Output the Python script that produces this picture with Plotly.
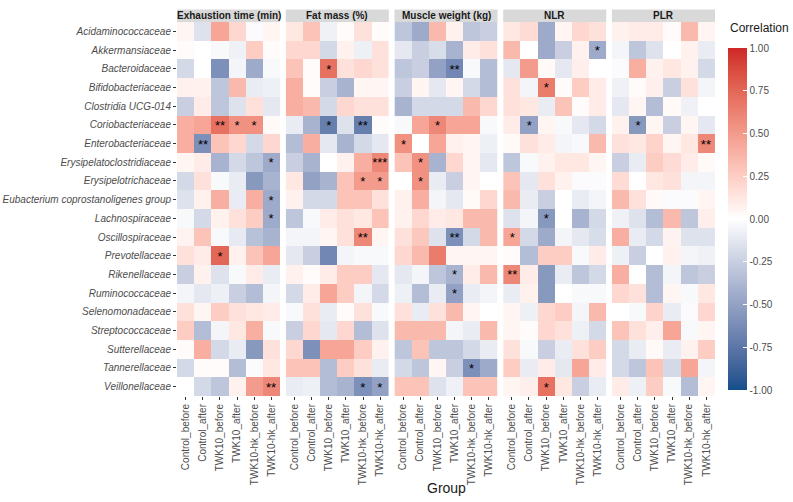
import plotly.graph_objects as go
from plotly.subplots import make_subplots

taxa = ["Acidaminococcaceae", "Akkermansiaceae", "Bacteroidaceae", "Bifidobacteriaceae",
        "Clostridia UCG-014", "Coriobacteriaceae", "Enterobacteriaceae",
        "Erysipelatoclostridiaceae", "Erysipelotrichaceae",
        "Eubacterium coprostanoligenes group", "Lachnospiraceae", "Oscillospiraceae",
        "Prevotellaceae", "Rikenellaceae", "Ruminococcaceae", "Selenomonadaceae",
        "Streptococcaceae", "Sutterellaceae", "Tannerellaceae", "Veillonellaceae"]

groups = ["Control_before", "Control_after", "TWK10_before", "TWK10_after",
          "TWK10-hk_before", "TWK10-hk_after"]

traits = ["Exhaustion time (min)", "Fat mass (%)", "Muscle weight (kg)", "NLR", "PLR"]

exhaustion = [
    [0.05, -0.15, 0.45, 0.2, -0.02, 0.05],
    [0.02, 0.0, -0.03, -0.07, 0.25, 0.02],
    [-0.2, 0.0, -0.6, -0.05, -0.45, -0.03],
    [0.07, 0.07, -0.3, 0.35, -0.1, -0.08],
    [-0.25, 0.1, -0.3, -0.15, 0.15, -0.12],
    [0.4, 0.45, 0.7, 0.55, 0.55, 0.03],
    [0.4, -0.6, 0.3, 0.2, -0.2, 0.2],
    [0.05, 0.1, -0.4, -0.2, -0.3, -0.45],
    [-0.2, 0.15, -0.03, -0.1, -0.55, -0.4],
    [-0.15, 0.07, 0.4, -0.1, 0.4, -0.45],
    [-0.03, -0.2, 0.07, 0.15, 0.25, -0.45],
    [0.06, 0.3, -0.03, -0.11, -0.33, -0.4],
    [0.15, 0.1, 0.75, 0.07, 0.3, 0.45],
    [-0.25, 0.07, -0.15, -0.03, 0.1, -0.1],
    [-0.05, -0.12, -0.08, -0.25, -0.35, -0.05],
    [0.15, 0.05, 0.25, 0.15, 0.12, 0.1],
    [0.25, -0.35, -0.05, 0.12, 0.4, -0.03],
    [0.02, 0.4, -0.2, -0.1, -0.55, 0.15],
    [-0.2, 0.02, 0.02, -0.35, -0.02, 0.12],
    [0.0, -0.2, -0.3, 0.07, 0.5, 0.6],
]

fat_mass = [
    [0.12, 0.3, -0.07, 0.02, 0.15, 0.02],
    [0.2, 0.2, -0.2, 0.07, -0.08, 0.15],
    [0.3, 0.02, 0.7, 0.15, 0.2, 0.15],
    [0.4, 0.02, -0.25, -0.4, 0.05, 0.05],
    [0.4, 0.35, -0.2, 0.2, 0.15, 0.15],
    [-0.1, -0.4, -0.7, -0.15, -0.7, 0.02],
    [-0.35, 0.4, -0.12, -0.4, -0.2, -0.12],
    [-0.25, -0.4, 0.0, 0.07, 0.4, 0.6],
    [0.12, -0.5, -0.4, 0.3, 0.5, 0.5],
    [0.07, -0.2, -0.2, 0.3, 0.3, 0.15],
    [-0.3, -0.03, 0.1, 0.15, 0.12, 0.3],
    [-0.05, -0.05, 0.05, 0.15, 0.6, 0.05],
    [-0.12, -0.25, -0.65, -0.05, -0.03, -0.03],
    [0.07, 0.02, 0.1, 0.25, 0.25, -0.12],
    [-0.2, 0.1, 0.45, 0.25, -0.05, -0.2],
    [-0.03, 0.15, -0.1, 0.02, 0.15, -0.03],
    [-0.25, 0.2, -0.12, 0.2, -0.35, -0.15],
    [0.2, -0.6, 0.45, 0.45, 0.25, 0.07],
    [0.3, 0.3, -0.35, 0.25, 0.15, -0.1],
    [-0.1, -0.08, -0.35, -0.4, -0.6, -0.5],
]

muscle_weight = [
    [-0.3, -0.45, 0.35, 0.07, -0.3, -0.25],
    [-0.12, -0.25, -0.18, -0.4, 0.1, 0.15],
    [-0.3, -0.25, -0.5, -0.65, -0.03, -0.35],
    [-0.25, 0.05, -0.12, 0.05, -0.2, -0.35],
    [-0.4, -0.2, -0.2, -0.2, 0.35, 0.2],
    [-0.03, 0.45, 0.6, 0.45, 0.45, -0.03],
    [0.55, 0.0, 0.45, 0.07, 0.05, -0.08],
    [0.3, 0.55, -0.4, 0.2, 0.05, -0.12],
    [0.0, 0.55, -0.1, -0.25, 0.05, 0.0],
    [0.07, 0.4, -0.05, -0.12, 0.03, 0.2],
    [0.07, 0.2, 0.1, 0.12, 0.35, 0.35],
    [0.15, 0.28, -0.15, -0.6, -0.2, 0.35],
    [0.2, 0.35, 0.65, 0.05, 0.05, 0.05],
    [-0.12, -0.05, -0.3, -0.4, 0.1, 0.35],
    [-0.08, -0.35, -0.1, -0.5, -0.1, -0.05],
    [0.15, -0.1, 0.15, 0.35, 0.05, 0.0],
    [0.35, 0.35, 0.35, -0.05, -0.1, 0.35],
    [-0.3, 0.3, -0.3, -0.3, -0.2, -0.1],
    [-0.2, -0.3, 0.05, -0.25, -0.6, -0.45],
    [0.3, 0.3, -0.15, -0.07, 0.3, 0.3],
]

nlr = [
    [0.12, 0.18, -0.45, 0.05, 0.2, 0.15],
    [0.35, 0.0, -0.45, -0.25, 0.07, -0.45],
    [-0.12, 0.5, 0.03, -0.12, 0.08, 0.0],
    [0.15, -0.05, 0.65, 0.02, 0.25, 0.1],
    [0.15, 0.12, -0.1, 0.3, 0.02, 0.1],
    [0.1, -0.5, 0.05, -0.03, -0.12, -0.2],
    [0.03, 0.15, 0.1, -0.05, -0.03, 0.35],
    [-0.3, -0.03, 0.07, 0.12, 0.12, 0.05],
    [0.3, -0.12, 0.15, 0.07, -0.02, -0.02],
    [0.35, -0.1, -0.25, 0.0, -0.1, -0.05],
    [-0.15, -0.05, -0.55, 0.0, -0.4, -0.2],
    [0.45, -0.2, -0.45, -0.05, -0.12, -0.18],
    [0.02, -0.35, 0.25, 0.25, -0.03, 0.1],
    [0.6, 0.1, -0.55, -0.1, -0.3, -0.2],
    [-0.1, 0.07, -0.55, 0.0, -0.03, -0.03],
    [0.05, -0.08, 0.2, 0.25, -0.05, 0.35],
    [0.05, 0.02, 0.2, 0.15, -0.08, -0.2],
    [0.15, -0.03, -0.25, -0.1, 0.15, 0.25],
    [0.25, -0.1, 0.1, -0.12, 0.45, 0.1],
    [0.05, 0.08, 0.7, 0.12, -0.25, -0.1],
]

plr = [
    [0.07, 0.1, 0.1, 0.02, 0.35, 0.05],
    [-0.05, -0.3, -0.15, 0.0, 0.07, -0.1],
    [-0.02, 0.4, 0.07, 0.12, 0.07, -0.2],
    [-0.07, 0.02, 0.08, -0.25, 0.15, -0.05],
    [-0.12, 0.05, -0.35, 0.03, -0.07, 0.0],
    [0.07, -0.55, 0.05, -0.25, 0.05, -0.12],
    [0.15, 0.12, 0.22, 0.05, 0.12, 0.6],
    [-0.25, -0.1, 0.25, 0.18, 0.1, 0.03],
    [0.18, 0.0, 0.12, 0.15, -0.05, -0.05],
    [0.35, 0.15, 0.03, -0.02, -0.02, 0.05],
    [-0.07, -0.15, -0.35, 0.35, -0.3, 0.08],
    [0.4, -0.1, -0.2, 0.06, -0.15, -0.15],
    [-0.08, -0.25, 0.0, 0.07, -0.05, -0.07],
    [0.4, 0.0, -0.35, -0.05, -0.3, -0.25],
    [0.2, 0.15, -0.35, 0.05, -0.03, 0.12],
    [0.0, -0.03, 0.22, -0.1, -0.02, 0.2],
    [0.3, 0.15, 0.08, 0.45, -0.03, 0.05],
    [-0.2, -0.1, 0.03, -0.1, 0.07, 0.25],
    [-0.2, -0.3, 0.3, -0.2, 0.45, -0.05],
    [0.1, -0.08, 0.25, -0.03, -0.35, 0.05],
]

# significance labels: (taxon, group) -> stars
exhaustion_sig = {
    ("Coriobacteriaceae", "TWK10_before"): "**",
    ("Coriobacteriaceae", "TWK10_after"): "*",
    ("Coriobacteriaceae", "TWK10-hk_before"): "*",
    ("Enterobacteriaceae", "Control_after"): "**",
    ("Erysipelatoclostridiaceae", "TWK10-hk_after"): "*",
    ("Eubacterium coprostanoligenes group", "TWK10-hk_after"): "*",
    ("Lachnospiraceae", "TWK10-hk_after"): "*",
    ("Prevotellaceae", "TWK10_before"): "*",
    ("Veillonellaceae", "TWK10-hk_after"): "**",
}
fat_mass_sig = {
    ("Bacteroidaceae", "TWK10_before"): "*",
    ("Coriobacteriaceae", "TWK10_before"): "*",
    ("Coriobacteriaceae", "TWK10-hk_before"): "**",
    ("Erysipelatoclostridiaceae", "TWK10-hk_after"): "***",
    ("Erysipelotrichaceae", "TWK10-hk_before"): "*",
    ("Erysipelotrichaceae", "TWK10-hk_after"): "*",
    ("Oscillospiraceae", "TWK10-hk_before"): "**",
    ("Veillonellaceae", "TWK10-hk_before"): "*",
    ("Veillonellaceae", "TWK10-hk_after"): "*",
}
muscle_weight_sig = {
    ("Bacteroidaceae", "TWK10_after"): "**",
    ("Coriobacteriaceae", "TWK10_before"): "*",
    ("Enterobacteriaceae", "Control_before"): "*",
    ("Erysipelatoclostridiaceae", "Control_after"): "*",
    ("Erysipelotrichaceae", "Control_after"): "*",
    ("Oscillospiraceae", "TWK10_after"): "**",
    ("Rikenellaceae", "TWK10_after"): "*",
    ("Ruminococcaceae", "TWK10_after"): "*",
    ("Tannerellaceae", "TWK10-hk_before"): "*",
}
nlr_sig = {
    ("Akkermansiaceae", "TWK10-hk_after"): "*",
    ("Bifidobacteriaceae", "TWK10_before"): "*",
    ("Coriobacteriaceae", "Control_after"): "*",
    ("Lachnospiraceae", "TWK10_before"): "*",
    ("Oscillospiraceae", "Control_before"): "*",
    ("Rikenellaceae", "Control_before"): "**",
    ("Veillonellaceae", "TWK10_before"): "*",
}
plr_sig = {
    ("Coriobacteriaceae", "Control_after"): "*",
    ("Enterobacteriaceae", "TWK10-hk_after"): "**",
}

low_col = "#104E8B"
mid_col = "#FFFFFF"
high_col = "#CD2626"


# --- Lab interpolation (like ggplot2's gradient2) ---
def hex_to_rgb(h):
    h = h.lstrip("#")
    return [int(h[i:i + 2], 16) / 255 for i in (0, 2, 4)]


def to_lin(c):
    return c / 12.92 if c <= 0.04045 else ((c + 0.055) / 1.055) ** 2.4


def from_lin(c):
    v = 12.92 * c if c <= 0.0031308 else 1.055 * c ** (1 / 2.4) - 0.055
    return min(1.0, max(0.0, v))


WHITE = (0.95047, 1.0, 1.08883)


def f_lab(t):
    d = 6 / 29
    return t ** (1 / 3) if t > d ** 3 else t / (3 * d * d) + 4 / 29


def f_inv(t):
    d = 6 / 29
    return t ** 3 if t > d else 3 * d * d * (t - 4 / 29)


def rgb_to_lab(rgb):
    r, g, b = [to_lin(c) for c in rgb]
    X = 0.4124 * r + 0.3576 * g + 0.1805 * b
    Y = 0.2126 * r + 0.7152 * g + 0.0722 * b
    Z = 0.0193 * r + 0.1192 * g + 0.9505 * b
    fx, fy, fz = f_lab(X / WHITE[0]), f_lab(Y / WHITE[1]), f_lab(Z / WHITE[2])
    return (116 * fy - 16, 500 * (fx - fy), 200 * (fy - fz))


def lab_to_rgb(lab):
    L, a, b = lab
    fy = (L + 16) / 116
    fx = fy + a / 500
    fz = fy - b / 200
    X, Y, Z = WHITE[0] * f_inv(fx), WHITE[1] * f_inv(fy), WHITE[2] * f_inv(fz)
    r = 3.2406 * X - 1.5372 * Y - 0.4986 * Z
    g = -0.9689 * X + 1.8758 * Y + 0.0415 * Z
    bb = 0.0557 * X - 0.2040 * Y + 1.0570 * Z
    return "rgb(%d,%d,%d)" % tuple(round(from_lin(c) * 255) for c in (r, g, bb))


def lab_scale(low, mid, high, n=20):
    L0, M0, H0 = rgb_to_lab(hex_to_rgb(low)), rgb_to_lab(hex_to_rgb(mid)), rgb_to_lab(hex_to_rgb(high))
    stops = []
    for i in range(n + 1):
        t = i / n
        if t <= 0.5:
            s = t / 0.5
            lab = [L0[k] + (M0[k] - L0[k]) * s for k in range(3)]
        else:
            s = (t - 0.5) / 0.5
            lab = [M0[k] + (H0[k] - M0[k]) * s for k in range(3)]
        stops.append([t, lab_to_rgb(lab)])
    return stops


colorscale = lab_scale(low_col, mid_col, high_col, 40)

values = [exhaustion, fat_mass, muscle_weight, nlr, plr]
sigs = [exhaustion_sig, fat_mass_sig, muscle_weight_sig, nlr_sig, plr_sig]

fig = make_subplots(rows=1, cols=5, shared_yaxes=True, horizontal_spacing=0.0105)

FONT = "Liberation Sans, Arial, sans-serif"

for k, (z, sig) in enumerate(zip(values, sigs)):
    text = [[sig.get((t, g), "") for g in groups] for t in taxa]
    fig.add_trace(go.Heatmap(
        x=groups, y=taxa, z=z, text=text, texttemplate="%{text}",
        textfont=dict(size=13, color="black", family=FONT),
        coloraxis="coloraxis", xgap=0, ygap=0, hoverinfo="skip"),
        row=1, col=k + 1)

plot_h = 374.0
for k, name in enumerate(traits):
    xd = "x domain" if k == 0 else "x%d domain" % (k + 1)
    fig.add_shape(type="rect", xref=xd, yref="paper", x0=0, x1=1,
                  y0=1.0, y1=1 + 12.5 / plot_h, fillcolor="#D9D9D9", line_width=0, layer="below")
    fig.add_annotation(xref=xd, yref="paper", x=0.5, y=1 + 6.25 / plot_h, text="<b>%s</b>" % name,
                       showarrow=False, xanchor="center", yanchor="middle",
                       font=dict(size=10, color="#1A1A1A", family=FONT))

fig.update_xaxes(tickangle=-90, ticks="outside", ticklen=3, tickcolor="#333333", tickwidth=1,
                 tickfont=dict(size=10, color="#4D4D4D", family=FONT), showgrid=False,
                 zeroline=False, showline=False, automargin=False)
fig.update_yaxes(autorange="reversed", showgrid=False, zeroline=False, showline=False,
                 automargin=False)
fig.update_yaxes(ticks="outside", ticklen=3, tickcolor="#333333", tickwidth=1,
                 tickfont=dict(size=10, color="#4D4D4D", family=FONT, style="italic"),
                 row=1, col=1)

pw = 538.0
fig.update_layout(
    width=793, height=502,
    margin=dict(l=177, r=78, t=22, b=106),
    paper_bgcolor="white", plot_bgcolor="white",
    font=dict(family=FONT),
    coloraxis=dict(
        colorscale=colorscale, cmin=-1, cmax=1,
        colorbar=dict(
            x=(728 - 177) / pw, xanchor="left", xpad=0, ypad=0,
            y=(396 - 219) / plot_h, yanchor="middle", len=342 / plot_h, lenmode="fraction",
            thickness=19, thicknessmode="pixels", outlinewidth=0,
            tickvals=[-1, -0.75, -0.5, -0.25, 0, 0.25, 0.5, 0.75, 1],
            ticktext=["-1.00", "-0.75", "-0.50", "-0.25", "0.00", "0.25", "0.50", "0.75", "1.00"],
            ticks="inside", ticklen=4, tickcolor="white", tickwidth=1,
            tickfont=dict(size=10, color="#4D4D4D", family=FONT),
        ),
    ),
    showlegend=False,
)

fig.add_annotation(xref="paper", yref="paper", x=(728 - 177) / pw, y=(396 - 28) / plot_h,
                   text="Correlation", showarrow=False, xanchor="left", yanchor="middle",
                   font=dict(size=12, color="#1A1A1A", family=FONT))
fig.add_annotation(xref="paper", yref="paper", x=0.5, y=(396 - 488) / plot_h,
                   text="Group", showarrow=False, xanchor="center", yanchor="middle",
                   font=dict(size=14, color="#1A1A1A", family=FONT))

fig.write_html("out.html", config={"displayModeBar": False, "staticPlot": True},
               post_script="document.body.style.margin='0px';document.body.style.padding='0px';")
